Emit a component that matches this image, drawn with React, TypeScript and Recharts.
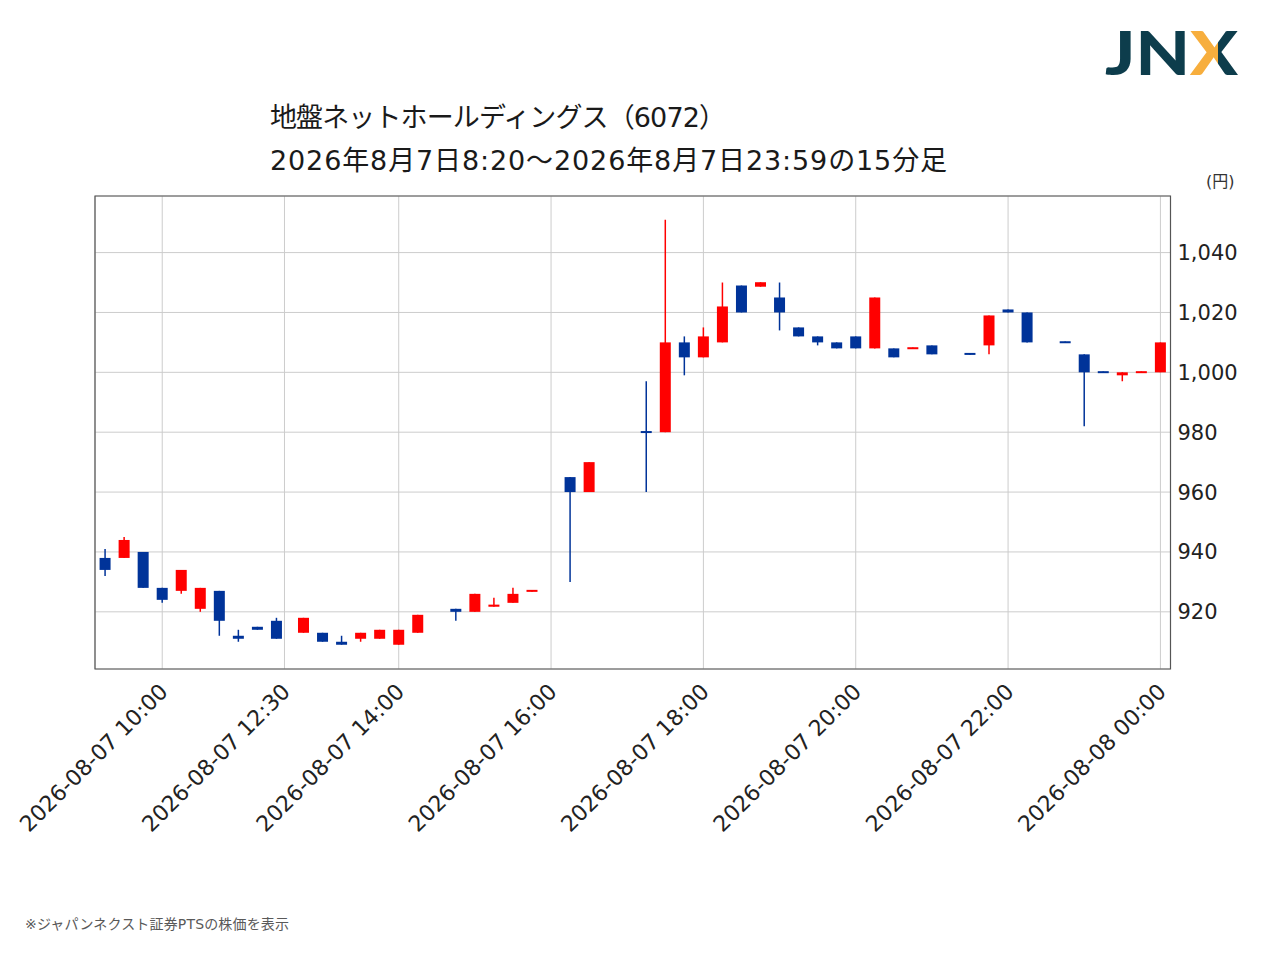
import React from 'react';
import { ComposedChart, Bar, XAxis, YAxis, CartesianGrid, ReferenceArea } from 'recharts';

// ---- data (15-minute candles, 2026-08-07) ----
const times = [
  '09:15', '09:30', '09:45', '10:00', '10:15', '10:30', '10:45', '11:00', '11:15', '11:30',
  '12:45', '13:00', '13:15', '13:30', '13:45', '14:00', '14:15', '14:45', '15:00', '15:15',
  '15:30', '15:45', '16:15', '16:30', '17:15', '17:30', '17:45', '18:00', '18:15', '18:30',
  '18:45', '19:00', '19:15', '19:30', '19:45', '20:00', '20:15', '20:30', '20:45', '21:00',
  '21:30', '21:45', '22:00', '22:15', '22:45', '23:00', '23:15', '23:30', '23:45', '24:00',
];
const opens = [
  938, 938, 940, 928, 927, 921, 927, 912, 915, 917,
  913, 913, 910, 911, 911, 909, 913, 921, 920, 921.7,
  923, 926.7, 965, 960, 980.3, 980, 1010, 1005, 1010, 1029,
  1028.6, 1025, 1015, 1012, 1010, 1012, 1008, 1008, 1007.8, 1009,
  1006.4, 1009, 1021, 1020, 1010.3, 1006, 1000.3, 999, 999.8, 1000,
];
const highs = [
  941, 945, 940, 928, 934, 928, 927, 914, 915, 918,
  918, 913, 912, 913, 914, 914, 919, 921, 926, 924.7,
  928, 927.3, 965, 970, 997, 1051, 1012, 1015, 1030, 1029,
  1030.1, 1030, 1015, 1012, 1010, 1012, 1025, 1008, 1008.3, 1009,
  1006.4, 1019, 1021, 1020, 1010.3, 1006, 1000.3, 1000, 1000.3, 1010,
];
const lows = [
  932, 938, 928, 923, 926, 920, 912, 910, 914, 911,
  913, 910, 909, 910, 911, 909, 913, 917, 920, 921.7,
  923, 926.7, 930, 960, 960, 980, 999, 1005, 1010, 1020,
  1028.6, 1014, 1012, 1009, 1008, 1008, 1008, 1005, 1007.8, 1006,
  1005.9, 1006, 1020, 1010, 1009.8, 982, 999.8, 997, 999.8, 1000,
];
const closes = [
  934, 944, 928, 924, 934, 928, 917, 911, 914, 911,
  918, 910, 909, 913, 914, 914, 919, 920, 926, 922.4,
  926, 927.3, 960, 970, 979.8, 1010, 1005, 1012, 1022, 1020,
  1030.1, 1020, 1012, 1010, 1008, 1008, 1025, 1005, 1008.3, 1006,
  1005.9, 1019, 1020, 1010, 1009.8, 1000, 999.8, 1000, 1000.3, 1010,
];

const tickTimes = ['10:00', '12:30', '14:00', '16:00', '18:00', '20:00', '22:00', '24:00'];
const tickLabels = [
  '2026-08-07 10:00', '2026-08-07 12:30', '2026-08-07 14:00', '2026-08-07 16:00',
  '2026-08-07 18:00', '2026-08-07 20:00', '2026-08-07 22:00', '2026-08-08 00:00',
];
const yTicks = [920, 940, 960, 980, 1000, 1020, 1040];

const titleLine1 = '地盤ネットホールディングス（6072）';
const titleLine2 = '2026年8月7日8:20～2026年8月7日23:59の15分足';
const footnote = '※ジャパンネクスト証券PTSの株価を表示';
const unitLabel = '(円)';

// ---- axis mapping: slots of 15 minutes, lunch break compressed ----
const LUNCH_RESUME_SLOT = 6.42;
function slot(t: string): number {
  const [hh, mm] = t.split(':').map(Number);
  const m = hh * 60 + mm;
  return m <= 690 ? (m - 600) / 15 : LUNCH_RESUME_SLOT + (m - 750) / 15;
}

const X_DOMAIN: [number, number] = [-3.53, 52.95];
const Y_DOMAIN: [number, number] = [900.9, 1058.9];

const RED = '#ff0000';
const BLUE = '#003399';

const data = times.map((t, i) => ({
  s: slot(t),
  o: opens[i],
  h: highs[i],
  l: lows[i],
  c: closes[i],
  range: [lows[i], highs[i]],
}));

const tickSlots = tickTimes.map(slot);

const Candle = (props: any) => {
  let { x, y, width, height, payload } = props;
  if (height < 0) {
    y = y + height;
    height = -height;
  }
  const { o, h, l, c } = payload;
  const up = c > o;
  const color = up ? RED : BLUE;
  const span = h - l;
  const py = (v: number) => (span > 0 ? y + ((h - v) / span) * height : y);
  const cx = x + width / 2;
  let top = py(Math.max(o, c));
  let bot = py(Math.min(o, c));
  if (bot - top < 2) {
    const mid = (top + bot) / 2;
    top = mid - 1;
    bot = mid + 1;
  }
  return (
    <g>
      <line x1={cx} x2={cx} y1={y} y2={y + height} stroke={color} strokeWidth={1.5} />
      <rect x={x} y={top} width={width} height={bot - top} fill={color} />
    </g>
  );
};

const XTick = (props: any) => {
  const { x, payload } = props;
  const idx = tickSlots.findIndex((v) => Math.abs(v - payload.value) < 1e-6);
  const label = idx >= 0 ? tickLabels[idx] : '';
  const ax = x + 7;
  const ay = 693;
  return (
    <text
      x={ax}
      y={ay}
      transform={`rotate(-45 ${ax} ${ay})`}
      textAnchor="end"
      fontSize={22}
      fontFamily="'DejaVu Sans', Verdana, sans-serif"
      fill="#222"
    >
      {label}
    </text>
  );
};

export default function App() {
  return (
    <div style={{ position: 'absolute', left: 0, top: 0, width: 1280, height: 958, background: '#fff' }}>
      <div style={{ position: 'absolute', left: 0, top: 0 }}>
        <ComposedChart
          width={1280}
          height={958}
          data={data}
          margin={{ top: 196, right: 29.5, bottom: 89, left: 95 }}
        >
          <CartesianGrid stroke="#cccccc" strokeWidth={1} />
          <XAxis
            type="number"
            dataKey="s"
            domain={X_DOMAIN}
            allowDataOverflow
            ticks={tickSlots}
            interval={0}
            axisLine={false}
            tickLine={false}
            height={200}
            tick={<XTick />}
          />
          <YAxis
            orientation="right"
            domain={Y_DOMAIN}
            allowDataOverflow
            ticks={yTicks}
            interval={0}
            axisLine={false}
            tickLine={false}
            tickSize={6}
            tickMargin={1}
            width={80}
            tickFormatter={(v: number) => v.toLocaleString('en-US')}
            tick={{ fontSize: 21, fill: '#222', fontFamily: "'DejaVu Sans', Verdana, sans-serif" }}
          />
          <Bar dataKey="range" barSize={11} shape={<Candle />} isAnimationActive={false} />
          <ReferenceArea
            x1={X_DOMAIN[0]}
            x2={X_DOMAIN[1]}
            y1={Y_DOMAIN[0]}
            y2={Y_DOMAIN[1]}
            ifOverflow="visible"
            fill="none"
            fillOpacity={0}
            stroke="#555555"
            strokeWidth={1.2}
          />
        </ComposedChart>
      </div>
      <svg
        width={1280}
        height={958}
        style={{ position: 'absolute', left: 0, top: 0, pointerEvents: 'none' }}
      >
        <defs>
          <linearGradient id="xgrad" gradientUnits="userSpaceOnUse" x1={1192} y1={0} x2={1238} y2={0}>
            <stop offset="0.56" stopColor="#f7ae3d" />
            <stop offset="0.56" stopColor="#0d3d4c" />
          </linearGradient>
        </defs>
        <text
          x={1105}
          y={75}
          fontSize={60}
          fontWeight={900}
          fontFamily="Lato, Roboto, sans-serif"
          fill="#0d3d4c"
          textLength={133}
          lengthAdjust="spacingAndGlyphs"
        >
          JN<tspan fill="url(#xgrad)">X</tspan>
        </text>
        <text
          x={270}
          y={127}
          fontSize={27}
          fontFamily="'DejaVu Sans', 'Noto Sans CJK JP', sans-serif"
          fill="#1a1a1a"
          textLength={456}
          lengthAdjust="spacing"
        >
          {titleLine1}
        </text>
        <text
          x={270}
          y={170}
          fontSize={27}
          fontFamily="'DejaVu Sans', 'Noto Sans CJK JP', sans-serif"
          fill="#1a1a1a"
          textLength={677}
          lengthAdjust="spacing"
        >
          {titleLine2}
        </text>
        <text
          x={1206}
          y={187}
          fontSize={16}
          fontFamily="'DejaVu Sans', 'Noto Sans CJK JP', sans-serif"
          fill="#333"
        >
          {unitLabel}
        </text>
        <text
          x={25}
          y={929}
          fontSize={14}
          fontFamily="'DejaVu Sans', 'Noto Sans CJK JP', sans-serif"
          fill="#595959"
          textLength={264}
          lengthAdjust="spacing"
        >
          {footnote}
        </text>
      </svg>
    </div>
  );
}
